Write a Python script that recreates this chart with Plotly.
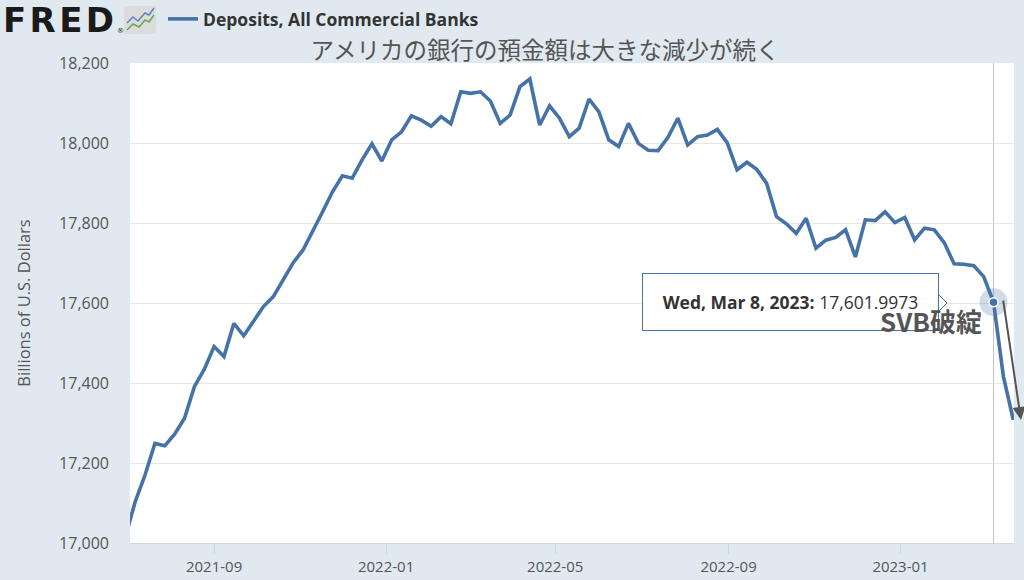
import pandas as pd
import plotly.graph_objects as go

# ---- data ----
start_date = "2021-06-30"
values = [
    17015, 17103, 17170, 17249, 17243, 17272, 17312, 17391, 17434, 17491,
    17466, 17549, 17518, 17556, 17591, 17616, 17658, 17700, 17732, 17778,
    17828, 17878, 17918, 17912, 17958, 17998, 17955, 18008, 18028, 18068,
    18057, 18042, 18066, 18048, 18128, 18124, 18128, 18105, 18049, 18070,
    18141, 18160, 18045, 18093, 18062, 18016, 18037, 18110, 18078, 18008,
    17991, 18049, 17999, 17982, 17981, 18014, 18062, 17995, 18016, 18020,
    18034, 18001, 17933, 17952, 17934, 17899, 17816, 17798, 17774, 17812,
    17737, 17757, 17764, 17783, 17715, 17808, 17806, 17828, 17801, 17814,
    17758, 17787, 17783, 17751, 17698, 17697, 17693, 17666, 17601.9973, 17416,
    17308,
]
dates = pd.date_range(start_date, periods=len(values), freq="W-WED")
highlight_index = 88  # Wed, Mar 8, 2023

x_tick_vals = ["2021-09-01", "2022-01-01", "2022-05-01", "2022-09-01", "2023-01-01"]
x_tick_text = ["2021-09", "2022-01", "2022-05", "2022-09", "2023-01"]
y_tick_vals = [17000, 17200, 17400, 17600, 17800, 18000, 18200]

series_name = "Deposits, All Commercial Banks"
title_text = "アメリカの銀行の預金額は大きな減少が続く"
y_title = "Billions of U.S. Dollars"
event_label = "SVB破綻"

# ---- layout geometry (pixels) ----
W, H = 1024, 580
L, R, T, B = 130, 1014, 63, 543
def px(x):
    return (x - L) / (R - L)
def py(y):
    return (B - y) / (B - T)
def poly(pts):
    return "M " + " L ".join(f"{px(a):.5f} {py(b):.5f}" for a, b in pts)

LINE = "#4572a7"
BG = "#e1e9f0"

fig = go.Figure()
fig.add_trace(go.Scatter(
    x=dates, y=values, mode="lines", name=series_name,
    line=dict(color=LINE, width=3.6), hoverinfo="skip", showlegend=True,
))
hx = dates[highlight_index]
hy = values[highlight_index]
fig.add_trace(go.Scatter(
    x=[hx], y=[hy], mode="markers", showlegend=False, hoverinfo="skip",
    marker=dict(size=28, color="rgba(69,114,167,0.25)", line=dict(width=0)),
))
fig.add_trace(go.Scatter(
    x=[hx], y=[hy], mode="markers", showlegend=False, hoverinfo="skip",
    marker=dict(size=9, color=LINE, line=dict(width=1.5, color="white")),
))

shapes = []
# crosshair
shapes.append(dict(type="line", xref="x", yref="paper", x0=hx, x1=hx, y0=0, y1=1,
                   line=dict(color="#c0c0c0", width=1), layer="below"))
# tooltip pointer
shapes.append(dict(type="path", xref="paper", yref="paper",
                   path=poly([(938, 294), (947, 303), (938, 312)]) + " Z",
                   fillcolor="white", line=dict(color=LINE, width=1), layer="above"))
# FRED icon
shapes.append(dict(type="rect", xref="paper", yref="paper",
                   x0=px(124), x1=px(156), y0=py(34), y1=py(6),
                   fillcolor="#dcdcdc", line=dict(width=0), layer="above"))
shapes.append(dict(type="path", xref="paper", yref="paper",
                   path=poly([(127, 23), (133, 17), (138, 21), (145, 13), (149, 15), (154, 8)]),
                   line=dict(color="#5b86c0", width=1.5)))
shapes.append(dict(type="path", xref="paper", yref="paper",
                   path=poly([(127, 30), (133, 24), (139, 27), (145, 20), (149, 22), (154, 15)]),
                   line=dict(color="#6aa84f", width=1.5)))

annotations = []
# tooltip
annotations.append(dict(
    x=hx, y=hy, xref="x", yref="y", showarrow=False, xanchor="right", yanchor="middle",
    xshift=-55, text="<b>Wed, Mar 8, 2023:</b> 17,601.9973",
    font=dict(family="Open Sans", size=17.5, color="#333333"),
    bgcolor="white", bordercolor=LINE, borderwidth=1, borderpad=10,
    width=275, height=36, align="center",
))
# event label
annotations.append(dict(
    x=px(931), y=py(320), xref="paper", yref="paper", showarrow=False,
    text=event_label, font=dict(family="Noto Sans CJK JP", size=26, color="#555555", weight="bold"),
    xanchor="center", yanchor="middle",
))
# arrow
annotations.append(dict(
    x=px(1021), y=py(420), xref="paper", yref="paper", showarrow=True,
    ax=-18, ay=-121,
    arrowhead=2, arrowsize=1.3, arrowwidth=2, arrowcolor="#555555", text="",
))
# FRED logo
annotations.append(dict(
    x=px(1), y=py(20), xref="paper", yref="paper", showarrow=False,
    text="<b>F\u200aR\u200aE\u200aD</b>", font=dict(family="DejaVu Sans", size=34, color="#1a1a1a"),
    xanchor="left", yanchor="middle",
))
annotations.append(dict(
    x=px(115), y=py(31), xref="paper", yref="paper", showarrow=False,
    text="®", font=dict(family="DejaVu Sans", size=7, color="#1a1a1a"),
    xanchor="left", yanchor="middle",
))

fig.update_layout(
    width=W, height=H,
    paper_bgcolor=BG, plot_bgcolor="white",
    margin=dict(l=L, r=W - R, t=T, b=H - B, autoexpand=False),
    title=dict(text=title_text, x=545 / W, xanchor="center", xref="container",
               y=1 - 51 / H, yanchor="middle", yref="container",
               font=dict(family="Noto Sans CJK JP", size=23.5, color="#555555")),
    legend=dict(orientation="h", x=163 / W, xref="container", xanchor="left",
                y=1 - 19 / H, yref="container", yanchor="middle",
                bgcolor="rgba(0,0,0,0)",
                font=dict(family="Open Sans", size=17.5, color="#333333", weight="bold")),
    xaxis=dict(type="date", range=["2021-07-03 08:00", "2023-03-22 12:00"],
               tickvals=x_tick_vals, ticktext=x_tick_text, automargin=False,
               showgrid=False, showline=True, linecolor="#ccd6eb", linewidth=1,
               ticks="outside", ticklen=10, tickcolor="#ccd6eb",
               tickfont=dict(family="Open Sans", size=15, color="#555555"),
               zeroline=False, fixedrange=True),
    yaxis=dict(range=[17000, 18200], tickvals=y_tick_vals, tickformat=",d",
               automargin=False,
               showgrid=True, gridcolor="#e6e6e6", gridwidth=1, zeroline=False,
               showline=False, ticks="", ticklabelstandoff=20,
               tickfont=dict(family="Open Sans", size=16, color="#555555"),
               title=dict(text=y_title, standoff=24,
                          font=dict(family="Open Sans", size=16.5, color="#555555")),
               fixedrange=True),
    shapes=shapes, annotations=annotations,
)

fig.write_html("out.html", post_script="document.body.style.margin='0';",
               config={"displayModeBar": False})
